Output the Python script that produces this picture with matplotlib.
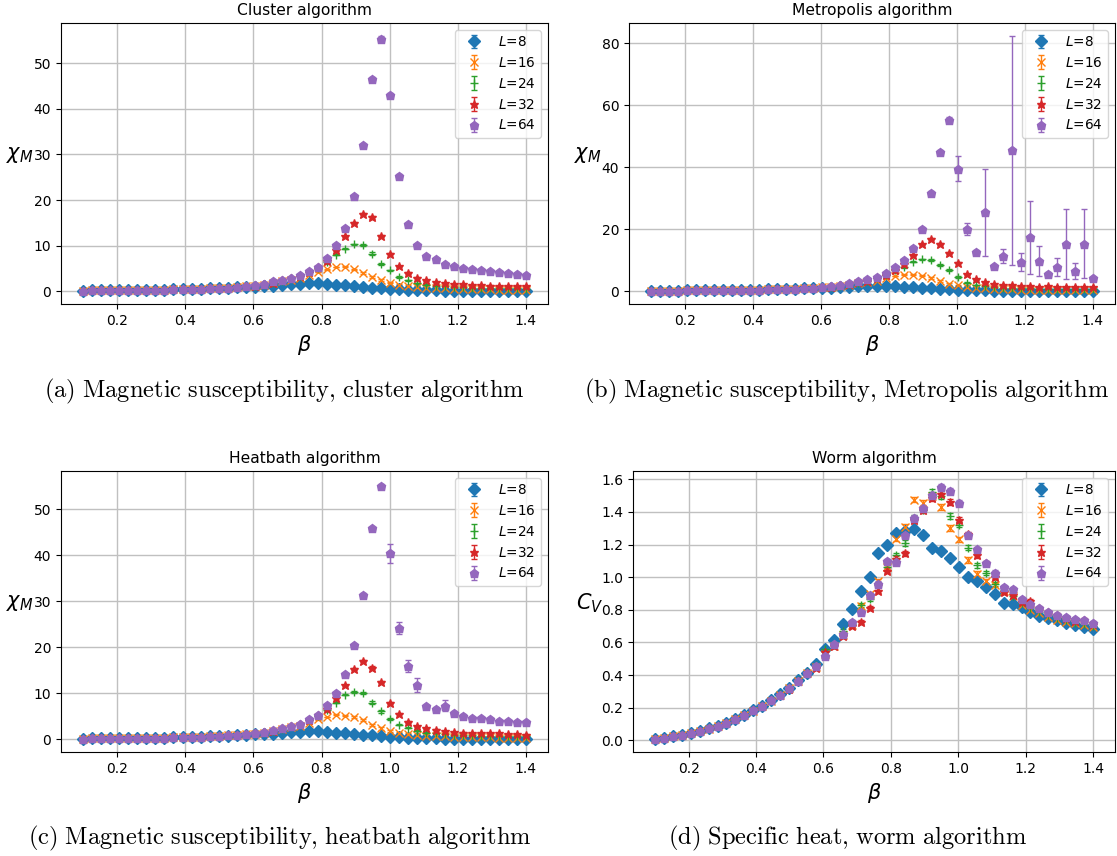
import matplotlib
matplotlib.use('Agg')
import matplotlib.pyplot as plt

# ---------------- data ----------------
beta = [0.1000, 0.1265, 0.1531, 0.1796, 0.2061, 0.2327, 0.2592, 0.2857, 0.3122, 0.3388,
        0.3653, 0.3918, 0.4184, 0.4449, 0.4714, 0.4980, 0.5245, 0.5510, 0.5776, 0.6041,
        0.6306, 0.6571, 0.6837, 0.7102, 0.7367, 0.7633, 0.7898, 0.8163, 0.8429, 0.8694,
        0.8959, 0.9224, 0.9490, 0.9755, 1.0020, 1.0286, 1.0551, 1.0816, 1.1082, 1.1347,
        1.1612, 1.1878, 1.2143, 1.2408, 1.2673, 1.2939, 1.3204, 1.3469, 1.3735, 1.4000]

sizes = ['8', '16', '24', '32', '64']
markers = ['D', 'x', '+', '*', 'p']
colors = ['#1f77b4', '#ff7f0e', '#2ca02c', '#d62728', '#9467bd']

# Cluster algorithm, magnetic susceptibility
cluster_L8 = [0.20, 0.22, 0.24, 0.26, 0.28, 0.30, 0.33, 0.36, 0.39, 0.42, 0.46, 0.50, 0.55, 0.61, 0.68, 0.76,
              0.84, 0.92, 1.00, 1.08, 1.18, 1.28, 1.42, 1.56, 1.70, 1.78, 1.76, 1.65, 1.50, 1.33, 1.16, 1.00,
              0.86, 0.72, 0.58, 0.47, 0.38, 0.31, 0.26, 0.22, 0.19, 0.17, 0.15, 0.14, 0.13, 0.12, 0.11, 0.10, 0.10, 0.09]
cluster_L16 = [0.20, 0.22, 0.24, 0.26, 0.28, 0.30, 0.33, 0.36, 0.39, 0.42, 0.46, 0.50, 0.55, 0.61, 0.68, 0.76,
               0.86, 0.98, 1.12, 1.28, 1.50, 1.80, 2.20, 2.60, 3.00, 3.60, 4.30, 4.85, 5.35, 5.40, 4.85, 4.10,
               3.10, 2.45, 1.95, 1.50, 1.20, 1.00, 0.85, 0.75, 0.66, 0.60, 0.55, 0.50, 0.47, 0.44, 0.41, 0.39, 0.37, 0.35]
cluster_L24 = [0.20, 0.22, 0.24, 0.26, 0.28, 0.30, 0.33, 0.36, 0.39, 0.42, 0.46, 0.50, 0.55, 0.61, 0.68, 0.76,
               0.86, 0.98, 1.12, 1.30, 1.54, 1.88, 2.35, 2.85, 3.35, 4.20, 5.10, 6.40, 8.00, 9.40, 10.30, 10.10,
               8.30, 6.00, 4.60, 3.20, 2.40, 1.80, 1.45, 1.25, 1.10, 1.00, 0.92, 0.86, 0.81, 0.77, 0.73, 0.70, 0.67, 0.64]
cluster_L32 = [0.20, 0.22, 0.24, 0.26, 0.28, 0.30, 0.33, 0.36, 0.39, 0.42, 0.46, 0.50, 0.55, 0.61, 0.68, 0.76,
               0.86, 0.98, 1.12, 1.30, 1.55, 1.90, 2.40, 2.90, 3.40, 4.30, 5.30, 6.60, 9.00, 12.10, 15.00, 17.00,
               16.20, 12.10, 8.30, 5.50, 4.05, 3.00, 2.45, 2.10, 1.80, 1.60, 1.55, 1.40, 1.35, 1.30, 1.25, 1.20, 1.15, 1.10]
cluster_L64 = [0.20, 0.22, 0.24, 0.26, 0.28, 0.30, 0.33, 0.36, 0.39, 0.42, 0.46, 0.50, 0.55, 0.61, 0.68, 0.76,
               0.86, 0.98, 1.12, 1.40, 1.70, 2.20, 2.50, 3.00, 3.50, 4.50, 5.40, 7.30, 10.10, 14.00, 20.90, 32.00,
               46.50, 55.40, 43.00, 25.30, 14.80, 10.10, 7.80, 7.00, 6.10, 5.65, 5.10, 4.90, 4.60, 4.50, 4.30, 4.05, 3.75, 3.55]
cluster_err_small = [0.01, 0.01, 0.01, 0.01, 0.01, 0.01, 0.01, 0.01, 0.01, 0.01, 0.01, 0.01, 0.01, 0.01, 0.01, 0.01,
                     0.02, 0.02, 0.02, 0.02, 0.03, 0.03, 0.03, 0.04, 0.05, 0.06, 0.07, 0.08, 0.10, 0.12, 0.15, 0.20,
                     0.25, 0.25, 0.20, 0.15, 0.12, 0.10, 0.08, 0.07, 0.06, 0.05, 0.05, 0.05, 0.04, 0.04, 0.04, 0.04, 0.04, 0.04]
cluster_err_L64 = [0.01, 0.01, 0.01, 0.01, 0.01, 0.01, 0.01, 0.01, 0.01, 0.01, 0.01, 0.01, 0.01, 0.01, 0.01, 0.01,
                   0.02, 0.02, 0.02, 0.03, 0.03, 0.04, 0.05, 0.06, 0.07, 0.08, 0.10, 0.12, 0.15, 0.20, 0.30, 0.40,
                   0.50, 0.60, 0.50, 0.40, 0.30, 0.20, 0.15, 0.12, 0.10, 0.08, 0.08, 0.07, 0.07, 0.06, 0.06, 0.06, 0.05, 0.05]

# Metropolis algorithm, magnetic susceptibility
metro_L8 = [0.20, 0.22, 0.24, 0.26, 0.28, 0.30, 0.33, 0.36, 0.39, 0.42, 0.46, 0.50, 0.55, 0.61, 0.68, 0.76,
            0.84, 0.92, 1.00, 1.08, 1.18, 1.29, 1.43, 1.57, 1.70, 1.78, 1.75, 1.64, 1.49, 1.33, 1.16, 1.00,
            0.86, 0.72, 0.58, 0.47, 0.38, 0.31, 0.26, 0.22, 0.19, 0.17, 0.15, 0.14, 0.13, 0.12, 0.11, 0.10, 0.10, 0.09]
metro_L16 = [0.20, 0.22, 0.24, 0.26, 0.28, 0.30, 0.33, 0.36, 0.39, 0.42, 0.46, 0.50, 0.55, 0.61, 0.68, 0.76,
             0.86, 0.98, 1.12, 1.28, 1.50, 1.80, 2.20, 2.60, 3.00, 3.40, 4.30, 4.90, 5.40, 5.40, 5.00, 4.30,
             3.20, 2.50, 1.90, 1.50, 1.20, 0.95, 0.80, 0.70, 0.62, 0.56, 0.52, 0.48, 0.45, 0.42, 0.40, 0.38, 0.36, 0.34]
metro_L24 = [0.20, 0.22, 0.24, 0.26, 0.28, 0.30, 0.33, 0.36, 0.39, 0.42, 0.46, 0.50, 0.55, 0.61, 0.68, 0.76,
             0.86, 0.98, 1.12, 1.30, 1.54, 1.88, 2.35, 2.85, 3.35, 4.20, 5.20, 6.90, 7.80, 9.60, 10.30, 10.10,
             8.50, 6.80, 4.50, 2.80, 2.00, 1.60, 1.35, 1.20, 1.08, 1.00, 0.93, 0.87, 0.82, 0.78, 0.74, 0.71, 0.68, 0.65]
metro_L32 = [0.20, 0.22, 0.24, 0.26, 0.28, 0.30, 0.33, 0.36, 0.39, 0.42, 0.46, 0.50, 0.55, 0.61, 0.68, 0.76,
             0.86, 0.98, 1.12, 1.30, 1.55, 1.90, 2.40, 2.90, 3.40, 4.30, 5.40, 6.80, 8.80, 11.70, 15.20, 16.80,
             15.40, 12.30, 9.30, 5.50, 3.90, 2.90, 2.40, 2.00, 1.90, 1.80, 1.80, 1.50, 1.60, 1.30, 1.30, 1.30, 1.30, 1.30]
metro_L64 = [0.20, 0.22, 0.24, 0.26, 0.28, 0.30, 0.33, 0.36, 0.39, 0.42, 0.46, 0.50, 0.55, 0.61, 0.68, 0.76,
             0.86, 0.98, 1.12, 1.40, 1.70, 2.10, 2.70, 3.20, 3.95, 4.60, 5.80, 7.70, 10.10, 14.10, 20.20, 31.80,
             45.00, 55.30, 39.50, 20.10, 12.80, 25.50, 8.10, 11.40, 45.50, 9.50, 17.40, 9.90, 5.70, 7.70, 15.40, 6.50, 15.40, 4.20]
metro_err_small = [0.01, 0.01, 0.01, 0.01, 0.01, 0.01, 0.01, 0.01, 0.01, 0.01, 0.01, 0.01, 0.01, 0.01, 0.01, 0.01,
                   0.02, 0.02, 0.02, 0.02, 0.03, 0.03, 0.04, 0.05, 0.06, 0.07, 0.08, 0.10, 0.12, 0.15, 0.20, 0.25,
                   0.30, 0.35, 0.30, 0.20, 0.15, 0.12, 0.10, 0.08, 0.07, 0.07, 0.06, 0.06, 0.06, 0.05, 0.05, 0.05, 0.05, 0.05]
metro_err_L64 = [0.01, 0.01, 0.01, 0.01, 0.01, 0.01, 0.01, 0.01, 0.01, 0.01, 0.01, 0.02, 0.02, 0.02, 0.02, 0.03,
                 0.03, 0.04, 0.05, 0.06, 0.07, 0.08, 0.10, 0.12, 0.15, 0.18, 0.20, 0.25, 0.30, 0.40, 0.50, 0.60,
                 0.70, 0.80, 4.00, 1.90, 0.60, 14.10, 0.50, 2.20, 36.90, 2.80, 11.80, 4.80, 0.40, 2.90, 11.30, 2.50, 11.10, 0.40]

# Heatbath algorithm, magnetic susceptibility
heat_L8 = [0.20, 0.22, 0.24, 0.26, 0.28, 0.30, 0.33, 0.36, 0.39, 0.42, 0.46, 0.50, 0.55, 0.61, 0.68, 0.76,
           0.84, 0.92, 1.00, 1.08, 1.18, 1.28, 1.42, 1.56, 1.70, 1.78, 1.76, 1.65, 1.50, 1.33, 1.16, 1.00,
           0.86, 0.72, 0.58, 0.47, 0.38, 0.31, 0.26, 0.22, 0.19, 0.17, 0.15, 0.14, 0.13, 0.12, 0.11, 0.10, 0.10, 0.09]
heat_L16 = [0.20, 0.22, 0.24, 0.26, 0.28, 0.30, 0.33, 0.36, 0.39, 0.42, 0.46, 0.50, 0.55, 0.61, 0.68, 0.76,
            0.86, 0.98, 1.12, 1.28, 1.50, 1.80, 2.20, 2.60, 3.00, 3.60, 4.40, 4.90, 5.40, 5.20, 4.90, 4.20,
            3.20, 2.40, 1.90, 1.50, 1.20, 1.00, 0.85, 0.75, 0.66, 0.60, 0.55, 0.50, 0.47, 0.44, 0.41, 0.39, 0.37, 0.35]
heat_L24 = [0.20, 0.22, 0.24, 0.26, 0.28, 0.30, 0.33, 0.36, 0.39, 0.42, 0.46, 0.50, 0.55, 0.61, 0.68, 0.76,
            0.86, 0.98, 1.12, 1.30, 1.54, 1.88, 2.35, 2.85, 3.35, 4.20, 5.10, 6.30, 8.00, 9.70, 10.30, 10.00,
            8.00, 6.10, 4.40, 3.20, 2.50, 1.90, 1.50, 1.30, 1.15, 1.05, 0.95, 0.90, 0.85, 0.80, 0.76, 0.72, 0.69, 0.66]
heat_L32 = [0.20, 0.22, 0.24, 0.26, 0.28, 0.30, 0.33, 0.36, 0.39, 0.42, 0.46, 0.50, 0.55, 0.61, 0.68, 0.76,
            0.86, 0.98, 1.12, 1.30, 1.55, 1.90, 2.40, 2.90, 3.40, 4.30, 5.30, 6.60, 9.10, 11.80, 15.30, 17.00,
            15.60, 12.40, 8.00, 5.60, 3.80, 2.90, 2.40, 2.10, 1.80, 1.65, 1.50, 1.45, 1.40, 1.30, 1.30, 1.20, 1.15, 1.05]
heat_L64 = [0.20, 0.22, 0.24, 0.26, 0.28, 0.30, 0.33, 0.36, 0.39, 0.42, 0.46, 0.50, 0.55, 0.61, 0.68, 0.76,
            0.86, 0.98, 1.12, 1.40, 1.60, 2.00, 2.40, 2.90, 3.40, 4.40, 5.40, 7.40, 10.10, 14.10, 20.50, 31.40,
            45.80, 55.00, 40.40, 24.20, 16.00, 11.80, 7.20, 6.70, 7.30, 5.80, 5.20, 4.70, 4.70, 4.40, 4.00, 3.90, 3.70, 3.70]
heat_err_small = [0.01, 0.01, 0.01, 0.01, 0.01, 0.01, 0.01, 0.01, 0.01, 0.01, 0.01, 0.01, 0.01, 0.01, 0.01, 0.01,
                  0.02, 0.02, 0.02, 0.02, 0.03, 0.03, 0.03, 0.04, 0.05, 0.06, 0.07, 0.08, 0.10, 0.12, 0.15, 0.20,
                  0.25, 0.25, 0.20, 0.15, 0.12, 0.10, 0.08, 0.07, 0.06, 0.05, 0.05, 0.05, 0.04, 0.04, 0.04, 0.04, 0.04, 0.04]
heat_err_L64 = [0.01, 0.01, 0.01, 0.01, 0.01, 0.01, 0.01, 0.01, 0.01, 0.01, 0.01, 0.01, 0.01, 0.01, 0.01, 0.01,
                0.02, 0.02, 0.02, 0.03, 0.03, 0.04, 0.05, 0.06, 0.07, 0.08, 0.10, 0.12, 0.15, 0.20, 0.30, 0.35,
                0.40, 0.50, 2.00, 1.40, 1.30, 1.50, 0.30, 0.30, 1.20, 0.30, 0.25, 0.20, 0.20, 0.20, 0.15, 0.15, 0.15, 0.15]

# Worm algorithm, specific heat
worm_L8 = [0.010, 0.015, 0.024, 0.033, 0.045, 0.057, 0.073, 0.090, 0.107, 0.132, 0.158, 0.185, 0.212, 0.245, 0.283, 0.322,
           0.372, 0.415, 0.468, 0.560, 0.618, 0.714, 0.805, 0.918, 1.002, 1.150, 1.197, 1.270, 1.282, 1.295, 1.260, 1.180,
           1.162, 1.115, 1.062, 1.002, 0.978, 0.938, 0.900, 0.844, 0.839, 0.816, 0.789, 0.765, 0.753, 0.737, 0.720, 0.706, 0.698, 0.684]
worm_L16 = [0.010, 0.015, 0.024, 0.033, 0.045, 0.057, 0.072, 0.090, 0.106, 0.130, 0.156, 0.183, 0.210, 0.242, 0.280, 0.318,
            0.365, 0.410, 0.450, 0.530, 0.580, 0.645, 0.706, 0.822, 0.900, 0.975, 1.062, 1.235, 1.310, 1.476, 1.455, 1.500,
            1.432, 1.302, 1.232, 1.106, 1.021, 0.978, 0.952, 0.916, 0.884, 0.832, 0.800, 0.782, 0.756, 0.736, 0.725, 0.718, 0.708, 0.695]
worm_L24 = [0.010, 0.015, 0.024, 0.033, 0.045, 0.057, 0.073, 0.090, 0.107, 0.132, 0.158, 0.185, 0.212, 0.245, 0.283, 0.322,
            0.370, 0.420, 0.460, 0.560, 0.585, 0.670, 0.715, 0.830, 0.869, 0.960, 1.060, 1.135, 1.210, 1.365, 1.415, 1.525,
            1.496, 1.375, 1.322, 1.180, 1.073, 1.025, 0.957, 0.920, 0.885, 0.845, 0.812, 0.790, 0.770, 0.752, 0.735, 0.722, 0.712, 0.700]
worm_L32 = [0.010, 0.015, 0.024, 0.033, 0.045, 0.057, 0.073, 0.090, 0.107, 0.132, 0.158, 0.185, 0.212, 0.245, 0.280, 0.315,
            0.365, 0.410, 0.445, 0.540, 0.578, 0.640, 0.704, 0.728, 0.812, 0.918, 1.040, 1.114, 1.147, 1.351, 1.410, 1.488,
            1.508, 1.463, 1.353, 1.263, 1.135, 1.088, 1.002, 0.912, 0.894, 0.846, 0.857, 0.810, 0.785, 0.768, 0.750, 0.733, 0.740, 0.712]
worm_L64 = [0.010, 0.015, 0.024, 0.033, 0.045, 0.057, 0.073, 0.090, 0.107, 0.132, 0.158, 0.185, 0.212, 0.245, 0.280, 0.320,
            0.365, 0.410, 0.455, 0.516, 0.590, 0.655, 0.728, 0.790, 0.894, 0.961, 1.100, 1.094, 1.257, 1.365, 1.424, 1.506,
            1.555, 1.531, 1.455, 1.261, 1.171, 1.086, 1.029, 0.941, 0.927, 0.869, 0.837, 0.812, 0.788, 0.771, 0.755, 0.743, 0.735, 0.722]
worm_err = [0.003, 0.003, 0.003, 0.003, 0.004, 0.004, 0.004, 0.004, 0.005, 0.005, 0.005, 0.005, 0.006, 0.006, 0.006, 0.007,
            0.007, 0.008, 0.008, 0.009, 0.010, 0.010, 0.011, 0.012, 0.012, 0.013, 0.014, 0.015, 0.016, 0.017, 0.018, 0.018,
            0.018, 0.018, 0.017, 0.016, 0.015, 0.014, 0.013, 0.012, 0.012, 0.011, 0.011, 0.010, 0.010, 0.010, 0.010, 0.010, 0.010, 0.010]

# ---------------- figure ----------------
W, H = 1117, 856
fig = plt.figure(figsize=(W / 100, H / 100), dpi=100)


def rect(left, top, right, bottom):
    return [left / W, 1 - bottom / H, (right - left) / W, (bottom - top) / H]


def panel(r, title, ylabel, series, errs, lx, ly):
    ax = fig.add_axes(r)
    for L, m, c, y, e in zip(sizes, markers, colors, series, errs):
        ax.errorbar(beta, y, yerr=e, fmt=m, color=c, ms=6.3, capsize=2,
                    elinewidth=1, linestyle='none', label=r'$L$=' + L)
    ax.grid(True, color='#c0c0c0', linewidth=1.0)
    ax.set_axisbelow(True)
    ax.set_title(title, fontsize=11.2)
    ax.set_xlabel(r'$\beta$', fontsize=15)
    ax.set_ylabel(ylabel, fontsize=15, rotation=0, ha='right', va='center')
    ax.yaxis.set_label_coords(lx, ly)
    ax.tick_params(labelsize=10)
    ax.set_xticks([0.2, 0.4, 0.6, 0.8, 1.0, 1.2, 1.4])
    ax.legend(loc='upper right', fontsize=9.8)
    return ax


panel(rect(61, 23, 548, 304), 'Cluster algorithm', r'$\chi_M$',
      [cluster_L8, cluster_L16, cluster_L24, cluster_L32, cluster_L64],
      [cluster_err_small, cluster_err_small, cluster_err_small, cluster_err_small, cluster_err_L64],
      -0.056, 0.53)
panel(rect(629, 23, 1115, 304), 'Metropolis algorithm', r'$\chi_M$',
      [metro_L8, metro_L16, metro_L24, metro_L32, metro_L64],
      [metro_err_small, metro_err_small, metro_err_small, metro_err_small, metro_err_L64],
      -0.056, 0.53)
panel(rect(61, 471, 548, 752), 'Heatbath algorithm', r'$\chi_M$',
      [heat_L8, heat_L16, heat_L24, heat_L32, heat_L64],
      [heat_err_small, heat_err_small, heat_err_small, heat_err_small, heat_err_L64],
      -0.056, 0.53)
panel(rect(633, 471, 1115, 752), 'Worm algorithm', r'$C_V$',
      [worm_L8, worm_L16, worm_L24, worm_L32, worm_L64],
      [worm_err, worm_err, worm_err, worm_err, worm_err],
      -0.062, 0.53)

captions = [
    (284, 391, r'$\mathrm{(a)\ Magnetic\ susceptibility{,}\ cluster\ algorithm}$'),
    (846, 391, r'$\mathrm{(b)\ Magnetic\ susceptibility{,}\ Metropolis\ algorithm}$'),
    (280, 838, r'$\mathrm{(c)\ Magnetic\ susceptibility{,}\ heatbath\ algorithm}$'),
    (848, 838, r'$\mathrm{(d)\ Specific\ heat{,}\ worm\ algorithm}$'),
]
for cx, cy, txt in captions:
    fig.text(cx / W, 1 - cy / H, txt, ha='center', va='center', fontsize=17.6, math_fontfamily='cm')

fig.savefig('out.png', dpi=100)
